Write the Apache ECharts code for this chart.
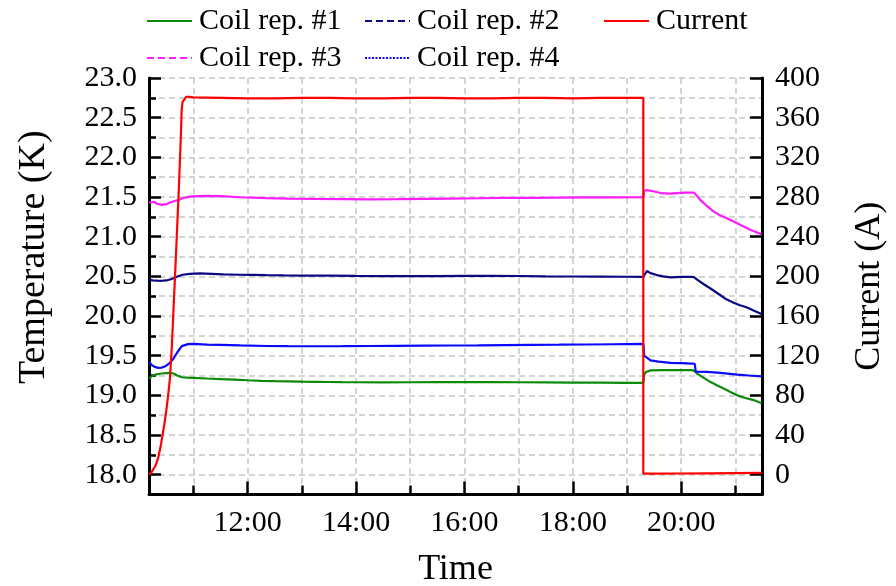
<!DOCTYPE html>
<html>
<head>
<meta charset="utf-8">
<script src="https://cdn.jsdelivr.net/npm/echarts@6/dist/echarts.min.js"></script>
<style>
  html, body { margin: 0; padding: 0; background: #fff; }
  #chart { width: 896px; height: 586px; }
</style>
</head>
<body>
<div id="chart"></div>
<script>
// Coil temperatures (K) and magnet current (A) during a test run.
const coil1Times = ['10:11','10:15','10:19','10:25','10:30','10:34','10:38','10:42','10:47','10:54','11:00','11:15','11:30','11:45','12:00','12:15','12:30','12:45','13:00','13:15','13:30','13:45','14:00','14:30','15:00','15:30','16:00','16:30','17:00','17:30','18:00','18:30','19:00','19:18','19:19','19:21','19:26','19:40','20:00','20:12','20:15','20:18','20:25','20:32','20:40','20:47','20:55','21:02','21:10','21:20','21:29'];
const coil1Temp = [19.21,19.25,19.265,19.275,19.28,19.283,19.275,19.25,19.228,19.222,19.22,19.212,19.205,19.198,19.19,19.183,19.178,19.175,19.172,19.17,19.168,19.166,19.165,19.164,19.165,19.166,19.167,19.167,19.165,19.163,19.161,19.159,19.157,19.156,19.26,19.295,19.315,19.318,19.318,19.318,19.305,19.27,19.22,19.17,19.125,19.086,19.04,19.0,18.97,18.94,18.9];

const coil2Times = ['10:11','10:15','10:20','10:25','10:30','10:34','10:38','10:43','10:48','10:56','11:07','11:20','11:33','11:50','12:05','12:21','12:40','13:00','13:30','14:00','14:30','15:00','15:30','16:00','16:30','17:00','17:30','18:00','18:30','19:00','19:18','19:20','19:22','19:26','19:33','19:40','19:48','20:00','20:10','20:14','20:18','20:25','20:32','20:43','20:50','20:58','21:05','21:13','21:20','21:29'];
const coil2Temp = [20.455,20.45,20.445,20.444,20.448,20.46,20.475,20.5,20.52,20.53,20.538,20.532,20.525,20.52,20.518,20.515,20.512,20.51,20.508,20.505,20.503,20.502,20.503,20.505,20.505,20.504,20.5,20.498,20.496,20.495,20.494,20.53,20.567,20.54,20.516,20.5,20.487,20.492,20.495,20.49,20.455,20.4,20.35,20.265,20.21,20.167,20.135,20.108,20.07,20.024];

const coil3Times = ['10:11','10:13','10:16','10:20','10:25','10:30','10:34','10:39','10:43','10:50','10:56','11:05','11:15','11:30','11:52','12:21','12:45','13:15','13:45','14:15','14:45','15:15','15:45','16:15','16:45','17:15','17:45','18:15','18:45','19:18','19:19','19:22','19:28','19:37','19:48','20:03','20:14','20:17','20:21','20:28','20:36','20:43','20:51','20:58','21:05','21:17','21:29'];
const coil3Temp = [21.43,21.44,21.44,21.415,21.4,21.41,21.43,21.45,21.463,21.49,21.505,21.512,21.514,21.51,21.497,21.485,21.48,21.476,21.473,21.47,21.472,21.476,21.48,21.484,21.488,21.49,21.493,21.495,21.496,21.498,21.575,21.588,21.575,21.55,21.542,21.555,21.556,21.52,21.463,21.39,21.316,21.27,21.23,21.19,21.15,21.085,21.03];

const coil4Times = ['10:11','10:14','10:18','10:21','10:25','10:29','10:34','10:38','10:42','10:47','10:54','11:00','11:15','11:30','11:52','12:21','12:45','13:15','13:45','14:15','14:45','15:15','15:45','16:15','16:45','17:15','17:45','18:15','18:45','19:18','19:19','19:20','19:26','19:35','19:48','20:00','20:12','20:15','20:16','20:29','20:43','21:02','21:15','21:29'];
const coil4Temp = [19.42,19.38,19.355,19.346,19.35,19.367,19.41,19.465,19.54,19.62,19.645,19.648,19.64,19.637,19.63,19.622,19.62,19.619,19.62,19.622,19.624,19.626,19.628,19.63,19.633,19.636,19.638,19.641,19.644,19.648,19.5,19.485,19.44,19.425,19.41,19.405,19.4,19.398,19.3,19.296,19.283,19.26,19.25,19.24];

const currentTimes = ['10:11','10:14','10:18','10:21','10:24','10:28','10:30','10:32','10:34','10:36','10:38','10:40','10:42','10:44','10:46','10:47','10:48','10:50','10:52','10:56','11:00','11:30','12:00','12:30','13:00','13:30','14:00','14:30','15:00','15:30','16:00','16:30','17:00','17:30','18:00','18:30','19:00','19:18','19:18','19:30','20:00','20:30','21:00','21:29'];
const currentAmps = [0,3,9,17,30,52,65,80,97,128,168,208,250,292,340,368,376,378,381,381,380.5,380,379.5,379.5,380,380,379.5,379.5,380,380,379.5,379.5,380,380,379.5,380,380,380,1,1,1.2,1.4,1.6,1.8];

const timeTicks = [11,12,13,14,15,16,17,18,19,20,21];
const timeLabels = [12,14,16,18,20];
const tempLabels = [18,18.5,19,19.5,20,20.5,21,21.5,22,22.5,23];
const currentLabels = [0,40,80,120,160,200,240,280,320,360,400];

function toHours(s) {
  const [h, m] = s.split(':').map(Number);
  return h + m / 60;
}
function pairs(times, values) {
  return times.map((t, i) => [toHours(t), values[i]]);
}

const FONT = 'Liberation Serif';
const gridDash = { color: '#c6c6c6', width: 1.5, type: [6, 4] };
const axisBlack = { color: '#000', width: 3 };

const chart = echarts.init(document.getElementById('chart'), null, { renderer: 'canvas' });

const lineSeries = (name, data, color, yIdx, z) => ({
  name, type: 'line', data, xAxisIndex: 0, yAxisIndex: yIdx,
  symbol: 'none', showSymbol: false, smooth: false, z,
  lineStyle: { color, width: 2.2 }, itemStyle: { color },
  emphasis: { disabled: true }
});

const legendBase = {
  orient: 'vertical', top: 6, padding: 0, itemGap: 7,
  itemWidth: 45, itemHeight: 14,
  itemStyle: { opacity: 0 },
  textStyle: { fontFamily: FONT, fontSize: 30, color: '#000', padding: [0, 0, 0, 2] },
  selectedMode: false
};

chart.setOption({
  animation: false,
  backgroundColor: '#fff',
  textStyle: { fontFamily: FONT },
  legend: [
    Object.assign({}, legendBase, { left: 146, data: [
      { name: 'Coil rep. #1' },
      { name: 'Coil rep. #3', lineStyle: { type: [7, 4] } }
    ] }),
    Object.assign({}, legendBase, { left: 364, data: [
      { name: 'Coil rep. #2', lineStyle: { type: [7, 4] } },
      { name: 'Coil rep. #4', lineStyle: { type: [2, 1.5] } }
    ] }),
    Object.assign({}, legendBase, { left: 603, data: [ { name: 'Current' } ] })
  ],
  grid: { left: 149, right: 134, top: 78, bottom: 91.5, containLabel: false, outerBoundsMode: 'none' },
  xAxis: [
    {
      type: 'value', position: 'bottom', min: 10.18, max: 21.49,
      name: 'Time', nameLocation: 'middle', nameGap: 57,
      nameTextStyle: { fontFamily: FONT, fontSize: 36, color: '#000' },
      axisLine: { onZero: false, lineStyle: axisBlack },
      axisTick: { inside: true, length: 9, customValues: timeTicks, lineStyle: { color: '#000', width: 2.5 } },
      axisLabel: { customValues: timeLabels, margin: 14, fontFamily: FONT, fontSize: 30, color: '#000',
        formatter: v => Math.round(v) + ':00' },
      splitLine: { show: true, lineStyle: gridDash }
    },
    {
      type: 'value', position: 'bottom', min: 10.18, max: 21.49, gridIndex: 0,
      axisLine: { show: false, onZero: false },
      axisTick: { inside: true, length: 13, customValues: timeLabels, lineStyle: { color: '#000', width: 2.5 } },
      axisLabel: { show: false },
      splitLine: { show: false }
    }
  ],
  yAxis: [
    {
      type: 'value', position: 'left', min: 17.75, max: 23, interval: 0.25,
      name: 'Temperature (K)', nameLocation: 'middle', nameRotate: 90, nameGap: 96,
      nameTextStyle: { fontFamily: FONT, fontSize: 38, color: '#000', padding: [0, 0, 0, 58] },
      axisLine: { show: true, onZero: false, lineStyle: axisBlack },
      axisTick: { inside: true, length: 7, lineStyle: { color: '#000', width: 2.5 } },
      axisLabel: { margin: 12, fontFamily: FONT, fontSize: 30, color: '#000',
        formatter: v => {
          const twice = v * 2;
          return (v >= 18 && Math.abs(twice - Math.round(twice)) < 1e-6) ? v.toFixed(1) : '';
        } },
      splitLine: { show: true, lineStyle: gridDash }
    },
    {
      type: 'value', position: 'right', min: -20, max: 400, interval: 20,
      name: 'Current (A)', nameLocation: 'middle', nameRotate: 90, nameGap: 90,
      nameTextStyle: { fontFamily: FONT, fontSize: 36, color: '#000' },
      axisLine: { show: true, onZero: false, lineStyle: axisBlack },
      axisTick: { inside: true, length: 12, customValues: currentLabels, lineStyle: { color: '#000', width: 2.5 } },
      axisLabel: { customValues: currentLabels, margin: 13, fontFamily: FONT, fontSize: 30, color: '#000' },
      splitLine: { show: false }
    },
    {
      type: 'value', position: 'left', min: 17.75, max: 23,
      axisLine: { show: false, onZero: false },
      axisTick: { inside: true, length: 12, customValues: tempLabels, lineStyle: { color: '#000', width: 2.5 } },
      axisLabel: { show: false },
      splitLine: { show: false }
    }
  ],
  series: [
    lineSeries('Coil rep. #1', pairs(coil1Times, coil1Temp), '#0b8a0b', 0, 3),
    lineSeries('Coil rep. #2', pairs(coil2Times, coil2Temp), '#0a0a80', 0, 3),
    lineSeries('Coil rep. #3', pairs(coil3Times, coil3Temp), '#ff1cff', 0, 3),
    lineSeries('Coil rep. #4', pairs(coil4Times, coil4Temp), '#0a0aff', 0, 3),
    lineSeries('Current', pairs(currentTimes, currentAmps), '#ff0000', 1, 4)
  ]
});
</script>
</body>
</html>
